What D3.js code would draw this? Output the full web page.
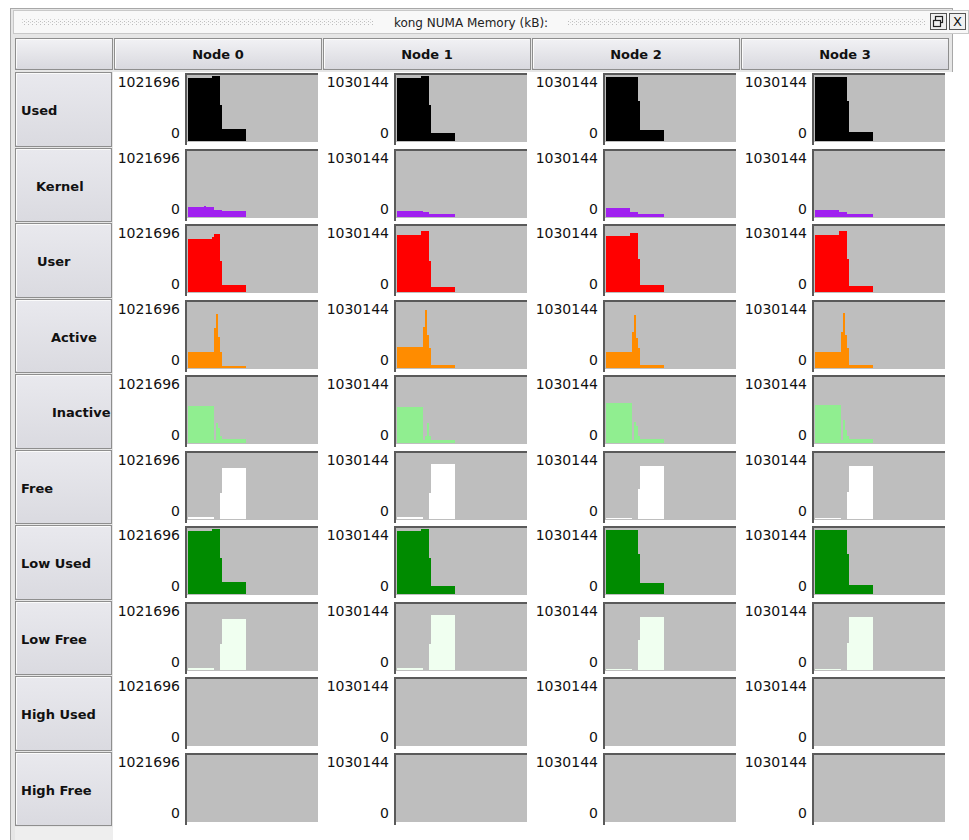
<!DOCTYPE html>
<html><head><meta charset="utf-8">
<script src="https://cdn.jsdelivr.net/npm/d3@7"></script>
<style>body{margin:0;background:#fff;} svg{display:block;font-family:"DejaVu Sans",sans-serif;}</style>
</head><body><svg id="c" width="969" height="840"></svg>
<script>
const title = "kong NUMA Memory (kB):";
const nodes = ["Node 0", "Node 1", "Node 2", "Node 3"];
const nodeMax = [1021696, 1030144, 1030144, 1030144];   // kB, top tick label of each node
const rowNames = ["Used", "Kernel", "User", "Active", "Inactive", "Free", "Low Used", "Low Free", "High Used", "High Free"];

// History samples, in thousands of kB, one array per node (Node 0..3)
const used = [
  [975,975,975,975,975,975,975,975,975,975,975,975,1006,1006,1006,1006,557,184,184,184,184,184,184,184,184,184,184,184,184],
  [984,984,984,984,984,984,984,984,984,984,984,984,1015,1015,1015,1015,567,129,129,129,129,129,129,129,129,129,129,129,129],
  [1004,1004,1004,1004,1004,1004,1004,1004,1004,1004,1004,1004,1004,1004,1004,1004,618,165,165,165,165,165,165,165,165,165,165,165,165],
  [999,999,999,999,999,999,999,999,999,999,999,999,999,999,999,999,618,144,144,144,144,144,144,144,144,144,144,144,144]
];
const kernel = [
  [153,153,153,153,153,153,153,153,170,148,148,148,148,107,107,107,107,92,92,92,92,92,92,92,92,92,92,92,92],
  [93,93,93,93,93,93,93,93,93,93,93,93,93,72,72,72,52,52,52,52,52,52,52,52,52,52,52,52,52],
  [134,134,134,134,134,134,134,134,134,134,134,134,82,82,82,82,52,52,52,52,52,52,52,52,52,52,52,52,52],
  [103,103,103,103,103,103,103,103,103,103,103,103,72,72,72,72,52,52,52,52,52,52,52,52,52,52,52,52,52]
];
const user = [
  [817,817,817,817,817,817,817,817,817,817,817,817,850,899,899,899,480,102,102,102,102,102,102,102,102,102,102,102,102],
  [886,886,886,886,886,886,886,886,886,886,886,886,958,958,958,958,484,82,82,82,82,82,82,82,82,82,82,82,82],
  [870,870,870,870,870,870,870,870,870,870,870,870,927,927,927,927,515,103,103,103,103,103,103,103,103,103,103,103,103],
  [886,886,886,886,886,886,886,886,886,886,886,886,948,948,948,948,515,93,93,93,93,93,93,93,93,93,93,93,93]
];
const active = [
  [245,245,245,245,245,245,245,245,245,245,245,245,245,613,838,480,255,36,36,36,36,36,36,36,36,36,36,36,36],
  [330,330,330,330,330,330,330,330,330,330,330,330,330,639,906,515,309,41,41,41,41,41,41,41,41,41,41,41,41],
  [247,247,247,247,247,247,247,247,247,247,247,247,247,567,824,464,309,41,41,41,41,41,41,41,41,41,41,41,41],
  [247,247,247,247,247,247,247,247,247,247,247,247,247,567,865,515,309,41,41,41,41,41,41,41,41,41,41,41,41]
];
const inactive = [
  [572,572,572,572,572,572,572,572,572,572,572,572,572,51,306,235,102,61,61,61,61,61,61,61,61,61,61,61,61],
  [556,556,556,556,556,556,556,556,556,556,556,556,556,52,103,309,103,52,52,52,52,52,52,52,52,52,52,52,52],
  [618,618,618,618,618,618,618,618,618,618,618,618,618,52,330,258,103,62,62,62,62,62,62,62,62,62,62,62,62],
  [587,587,587,587,587,587,587,587,587,587,587,587,587,52,361,206,103,62,62,62,62,62,62,62,62,62,62,62,62]
];
const free = [
  [31,31,31,31,31,31,31,31,31,31,31,31,31,5,5,5,409,797,797,797,797,797,797,797,797,797,797,797,797],
  [31,31,31,31,31,31,31,31,31,31,31,31,31,5,5,5,412,855,855,855,855,855,855,855,855,855,855,855,855],
  [21,21,21,21,21,21,21,21,21,21,21,21,21,5,5,5,464,824,824,824,824,824,824,824,824,824,824,824,824],
  [21,21,21,21,21,21,21,21,21,21,21,21,21,5,5,5,423,824,824,824,824,824,824,824,824,824,824,824,824]
];
const lowUsed = used;   // identical to Used in the picture
const lowFree = free;   // identical to Free in the picture
const highUsed = [[], [], [], []];
const highFree = [[], [], [], []];
const historyLength = 65;

const rowData = [used, kernel, user, active, inactive, free, lowUsed, lowFree, highUsed, highFree];
const rowColors = ["#000000", "#a020f0", "#ff0000", "#ff8c00", "#90ee90", "#ffffff", "#008b00", "#f0fff0", "#000000", "#ffffff"];
const labelX = [21, 36, 37, 51, 52, 21, 21, 21, 21, 21];

const svg = d3.select("#c");
const defs = svg.append("defs");
const gBtn = defs.append("linearGradient").attr("id", "btn").attr("x1", 0).attr("y1", 0).attr("x2", 0).attr("y2", 1);
gBtn.append("stop").attr("offset", "0%").attr("stop-color", "#f2f2f5");
gBtn.append("stop").attr("offset", "100%").attr("stop-color", "#d8d8de");
const gRow = defs.append("linearGradient").attr("id", "rowbtn").attr("x1", 0).attr("y1", 0).attr("x2", 0).attr("y2", 1);
gRow.append("stop").attr("offset", "0%").attr("stop-color", "#e9e9ee");
gRow.append("stop").attr("offset", "100%").attr("stop-color", "#dadae0");
const pat = defs.append("pattern").attr("id", "grip").attr("width", 4).attr("height", 3).attr("patternUnits", "userSpaceOnUse");
pat.append("rect").attr("x", 0).attr("y", 0).attr("width", 1).attr("height", 1).attr("fill", "#bdbdbd");
pat.append("rect").attr("x", 2).attr("y", 1).attr("width", 1).attr("height", 1).attr("fill", "#d0d0d0");

// window frame
svg.append("rect").attr("x", 10.5).attr("y", 8.5).attr("width", 942).attr("height", 840).attr("fill", "#e6e6e6").attr("stroke", "#a8a8a8");
// title bar
svg.append("rect").attr("x", 13.5).attr("y", 10.5).attr("width", 955).attr("height", 23).attr("fill", "#f8f8f8").attr("stroke", "#c8c8c8");
svg.append("rect").attr("x", 21).attr("y", 19).attr("width", 352).attr("height", 6).attr("fill", "url(#grip)");
svg.append("rect").attr("x", 567).attr("y", 19).attr("width", 358).attr("height", 6).attr("fill", "url(#grip)");
svg.append("text").attr("x", 471).attr("y", 26.5).attr("text-anchor", "middle").attr("font-size", 12).attr("fill", "#222").text(title);
// title buttons
svg.append("rect").attr("x", 930.5).attr("y", 13.5).attr("width", 16).attr("height", 16).attr("fill", "#f0f0f0").attr("stroke", "#555");
svg.append("rect").attr("x", 935.5).attr("y", 16.5).attr("width", 7).attr("height", 6).attr("fill", "none").attr("stroke", "#222").attr("stroke-width", 1.2);
svg.append("rect").attr("x", 933.5).attr("y", 20.5).attr("width", 7).attr("height", 6).attr("fill", "#f0f0f0").attr("stroke", "#222").attr("stroke-width", 1.2);
svg.append("rect").attr("x", 949.5).attr("y", 13.5).attr("width", 16).attr("height", 16).attr("fill", "#f0f0f0").attr("stroke", "#555");
svg.append("text").attr("x", 957.5).attr("y", 26).attr("text-anchor", "middle").attr("font-size", 13).attr("fill", "#111").text("X");

// geometry
const cellX0 = 113, cellW = 209, rowY0 = 72, rowH = 75.5, headY = 38, headH = 32;
const rowTop = j => Math.round(rowY0 + rowH * j);

// content area
svg.append("rect").attr("x", 113).attr("y", 72).attr("width", 840).attr("height", 768).attr("fill", "#ffffff");

// header buttons
function button(x, y, w, h, fill) {
  svg.append("rect").attr("x", x + 0.5).attr("y", y + 0.5).attr("width", w - 1).attr("height", h - 1)
    .attr("fill", fill).attr("stroke", "#8e8e8e");
  svg.append("path").attr("d", `M${x + 1.5},${y + h - 2}V${y + 1.5}H${x + w - 2}`).attr("fill", "none").attr("stroke", "#fbfbfb");
}
button(15, headY, 98, headH, "url(#btn)");
nodes.forEach((n, i) => {
  const x = cellX0 + cellW * i + 1;
  button(x, headY, cellW - 1, headH, "url(#btn)");
  svg.append("text").attr("x", x + (cellW - 1) / 2).attr("y", headY + 21).attr("text-anchor", "middle")
    .attr("font-size", 13).attr("font-weight", "bold").attr("fill", "#111").text(n);
});

// rows
rowNames.forEach((name, j) => {
  const y0 = rowTop(j), y1 = rowTop(j + 1);
  button(15, y0, 97, y1 - y0 - 1, "url(#rowbtn)");
  svg.append("text").attr("x", labelX[j]).attr("y", (y0 + y1) / 2 + 5).attr("font-size", 13)
    .attr("font-weight", "bold").attr("fill", "#111").text(name);

  nodes.forEach((n, i) => {
    const x0 = cellX0 + cellW * i;
    const max = nodeMax[i];
    const g = svg.append("g");
    const x = d3.scaleLinear().domain([0, historyLength]).range([x0 + 75, x0 + 205]);
    const y = d3.scaleLinear().domain([0, max / 1000]).range([y0 + 69, y0 + 3]);
    // panel
    g.append("rect").attr("x", x0 + 72).attr("y", y0 + 1).attr("width", 133).attr("height", 2).attr("fill", "#5a5a5a");
    g.append("rect").attr("x", x0 + 72).attr("y", y0 + 1).attr("width", 2).attr("height", 72).attr("fill", "#5a5a5a");
    g.append("rect").attr("x", x0 + 74).attr("y", y0 + 3).attr("width", 131).attr("height", 67).attr("fill", "#bebebe");
    // tick labels
    const ticks = y.domain();
    g.append("text").attr("x", x0 + 67).attr("y", y0 + 15).attr("text-anchor", "end").attr("font-size", 14)
      .attr("fill", "#111").text(d3.format("d")(max));
    g.append("text").attr("x", x0 + 67).attr("y", y0 + 66).attr("text-anchor", "end").attr("font-size", 14)
      .attr("fill", "#111").text(d3.format("d")(ticks[0]));
    // series
    const vals = rowData[j][i];
    if (vals.length) {
      const pts = vals.map((v, k) => [k, v]);
      pts.push([vals.length, vals[vals.length - 1]]);
      const area = d3.area().curve(d3.curveStepAfter).x(d => x(d[0])).y0(y(0)).y1(d => y(d[1]));
      g.append("path").attr("d", area(pts)).attr("fill", rowColors[j]).attr("shape-rendering", "crispEdges");
    }
  });
});

// bottom left filler
svg.append("rect").attr("x", 15).attr("y", rowTop(10)).attr("width", 98).attr("height", 840 - rowTop(10)).attr("fill", "#eeeeee");
</script>
</body></html>
